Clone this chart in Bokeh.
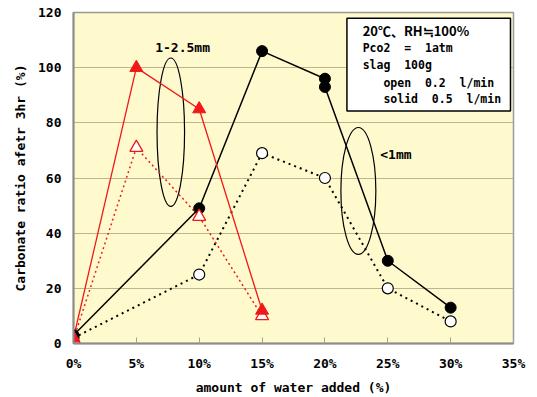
from bokeh.plotting import figure
from bokeh.models import FixedTicker, Range1d
from bokeh.core.properties import value
from bokeh.embed import file_html
from bokeh.resources import INLINE

# ---- data ----
water_solid_fine = [0, 10, 15, 20, 20, 25, 30]
ratio_solid_fine = [3, 49, 106, 96, 93, 30, 13]
water_open_fine = [0, 10, 15, 20, 25, 30]
ratio_open_fine = [2, 25, 69, 60, 20, 8]
water_solid_coarse = [0, 5, 10, 15]
ratio_solid_coarse = [2, 100, 85, 12]
water_open_coarse = [0, 5, 10, 15]
ratio_open_coarse = [1.5, 71, 46, 10]

x_ticks = [0, 5, 10, 15, 20, 25, 30, 35]
x_tick_labels = ["0%", "5%", "10%", "15%", "20%", "25%", "30%", "35%"]
y_ticks = [0, 20, 40, 60, 80, 100, 120]

box_title = ["20℃、RH≒100%"]
box_lines = ["Pco2\u00a0\u00a0=\u00a0\u00a01atm", "slag\u00a0\u00a0100g",
             "open\u00a0\u00a00.2\u00a0\u00a0l/min", "solid\u00a0\u00a00.5\u00a0\u00a0l/min"]
box_x = [23.0, 23.0, 24.65, 24.65]
box_y = [107.3, 101.0, 94.6, 88.5]

FONT = "DejaVu Sans Mono"
RED = "#F01818"

p = figure(width=537, height=397, output_backend="svg", toolbar_location=None,
           x_range=Range1d(0, 35), y_range=Range1d(0, 120))
p.min_border_left = 73
p.min_border_right = 24
p.min_border_top = 12
p.min_border_bottom = 53
p.background_fill_color = "#FFF9CE"
p.border_fill_color = "white"
p.outline_line_color = "#9A9A9A"
p.outline_line_width = 1.5

p.xgrid.grid_line_color = None
p.ygrid.grid_line_color = "#BDB590"
p.ygrid.grid_line_width = 1

p.xaxis.ticker = FixedTicker(ticks=x_ticks)
p.xaxis.major_label_overrides = {t: l for t, l in zip(x_ticks, x_tick_labels)}
p.yaxis.ticker = FixedTicker(ticks=y_ticks)

for ax in (p.xaxis[0], p.yaxis[0]):
    ax.axis_line_color = "#8C8C8C"
    ax.axis_line_width = 2
    ax.minor_tick_line_color = None
    ax.major_label_text_font = FONT
    ax.major_label_text_font_style = "bold"
    ax.major_label_text_font_size = "13px"
    ax.major_label_text_color = "black"
    ax.axis_label_text_font = FONT
    ax.axis_label_text_font_style = "bold"
    ax.axis_label_text_font_size = "13px"
    ax.axis_label_text_color = "black"

p.xaxis.major_tick_in = 6
p.xaxis.major_tick_out = 0
p.xaxis.major_tick_line_color = "#A0A0A0"
p.xaxis.major_label_standoff = 12
p.xaxis.axis_label = "amount of water added (%)"
p.xaxis.axis_label_standoff = 6

p.yaxis.major_tick_in = 0
p.yaxis.major_tick_out = 0
p.yaxis.major_label_standoff = 12
p.yaxis.axis_label = "Carbonate ratio afetr 3hr (%)"
p.yaxis.axis_label_standoff = 7

# ellipses
p.ellipse(x=[7.74, 22.66], y=[76.6, 55.3], width=[2.19, 2.78], height=[53.8, 46],
          fill_color=None, line_color="black", line_width=1.2)

# series
p.line(water_open_fine, ratio_open_fine, line_color="black", line_width=2, line_dash="2 4")
p.line(water_solid_fine, ratio_solid_fine, line_color="black", line_width=1.5)
p.line(water_open_coarse, ratio_open_coarse, line_color=RED, line_width=1.5, line_dash="2 3")
p.line(water_solid_coarse, ratio_solid_coarse, line_color=RED, line_width=1.3)

p.scatter(water_open_fine, ratio_open_fine, marker="circle", size=11,
          fill_color="white", line_color="black", line_width=1.2)
p.scatter(water_solid_fine, ratio_solid_fine, marker="circle", size=11,
          fill_color="black", line_color="black")
p.scatter(water_open_coarse, ratio_open_coarse, marker="triangle", size=13,
          fill_color="white", line_color=RED, line_width=1.3)
p.scatter(water_solid_coarse, ratio_solid_coarse, marker="triangle", size=13,
          fill_color=RED, line_color=RED)

# labels
p.text(x=[6.5, 24.4], y=[107.4, 68.4], text=["1-2.5mm", "<1mm"],
       text_font=value(FONT), text_font_style="bold", text_font_size="13px",
       text_align="left", text_baseline="middle", text_color="black")

# condition box
p.quad(left=[21.75], right=[34.76], top=[117.9], bottom=[84.3],
       fill_color="white", line_color="black", line_width=1.5)
p.text(x=[23.0], y=[113.5], text=box_title,
       text_font=value("Noto Sans CJK JP"), text_font_style="bold", text_font_size="13px",
       text_align="left", text_baseline="middle", text_color="black")
p.text(x=box_x, y=box_y, text=box_lines,
       text_font=value(FONT), text_font_style="bold", text_font_size="11.5px",
       text_align="left", text_baseline="middle", text_color="black")

open("out.html", "w").write(file_html(p, INLINE))
